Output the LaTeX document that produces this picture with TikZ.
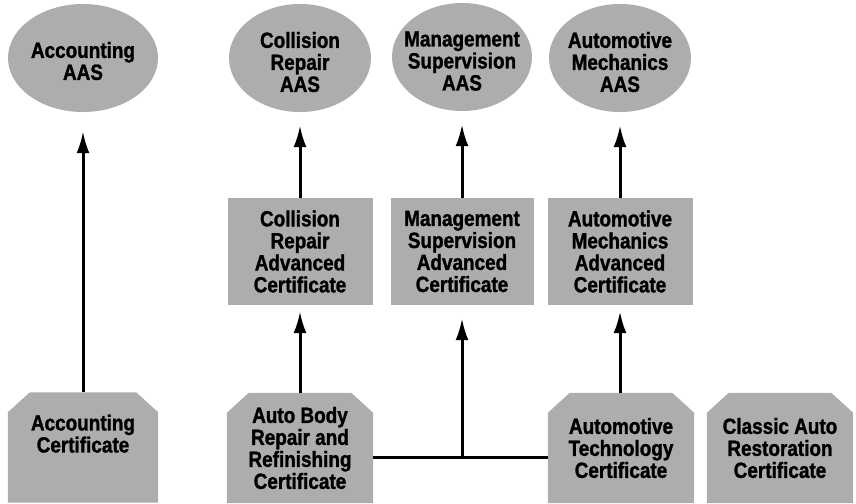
\documentclass[tikz,border=0pt]{standalone}
\usepackage{fontspec}
\setmainfont{Liberation Sans}[FakeStretch=0.86, BoldFeatures={FakeBold=1.3}]
\usetikzlibrary{shapes.geometric,arrows.meta,backgrounds}
\definecolor{dotgray}{gray}{0.68}
\begin{document}
\begin{tikzpicture}[x=1pt,y=-1pt,
  txt/.style={font=\bfseries\fontsize{22}{22}\selectfont, align=center, inner sep=0pt},
  aas/.style={ellipse, fill=dotgray, inner sep=0pt, minimum width=#1, minimum height=108pt},
  adv/.style={txt, rectangle, fill=dotgray, minimum width=145pt, minimum height=107pt},
  cert/.style={txt, rectangle, minimum width=146pt, minimum height=110pt},
  line/.style={line width=3pt},
  conn/.style={line, -{Latex[length=22pt,width=13pt]}, shorten >=13pt},
  conn2/.style={line, -{Latex[length=22pt,width=13pt]}, shorten >=6pt}
]
\useasboundingbox (0,0) rectangle (856,503);

% top ellipses
\node[aas=150pt, label={[txt,yshift=-3pt]center:Accounting\\AAS}] (accAAS) at (83,58) {};
\node[aas=142pt, label={[txt,yshift=-4pt]center:Collision\\Repair\\AAS}] (colAAS) at (300,58) {};
\node[aas=140pt, label={[txt,yshift=-4pt]center:Management\\Supervision\\AAS}] (mgmAAS) at (462,57) {};
\node[aas=142pt, label={[txt,yshift=-4pt]center:Automotive\\Mechanics\\AAS}] (mechAAS) at (620,58) {};

% middle rectangles
\node[adv] (colAdv) at (300,251.5) {Collision\\Repair\\Advanced\\Certificate};
\node[adv, minimum width=143pt] (mgmAdv) at (462,251.5) {Management\\Supervision\\Advanced\\Certificate};
\node[adv] (mechAdv) at (620,251.5) {Automotive\\Mechanics\\Advanced\\Certificate};

% bottom certificates
\node[cert, minimum width=150pt] (accCert) at (83,447.5) {Accounting\\Certificate\\[6pt]};
\node[cert] (bodyCert) at (300,448) {Auto Body\\Repair and\\Refinishing\\Certificate};
\node[cert] (techCert) at (621,448) {Automotive\\Technology\\Certificate};
\node[cert] (classicCert) at (780,448) {Classic Auto\\Restoration\\Certificate};

\begin{scope}[on background layer]
\foreach \n in {accCert,bodyCert,techCert,classicCert}{
  \fill[dotgray] (\n.south west) -- ([yshift=-20pt]\n.north west) -- ([xshift=22pt]\n.north west)
    -- ([xshift=-22pt]\n.north east) -- ([yshift=-20pt]\n.north east) -- (\n.south east) -- cycle;
}
\end{scope}

% connectors
\coordinate (j) at (462,457);
\draw[line] (bodyCert.east |- j) -- (techCert.west |- j);
\draw[conn, shorten >=19pt] (accCert.north) -- (accAAS.south);
\draw[conn] (colAdv.north) -- (colAAS.south);
\draw[conn] (mgmAdv.north) -- (mgmAAS.south);
\draw[conn] (mechAdv.north) -- (mechAAS.south);
\draw[conn2] (bodyCert.north) -- (colAdv.south);
\draw[conn] (j) -- (mgmAdv.south);
\draw[conn2] (techCert.north -| mechAdv.south) -- (mechAdv.south);
\end{tikzpicture}
\end{document}
